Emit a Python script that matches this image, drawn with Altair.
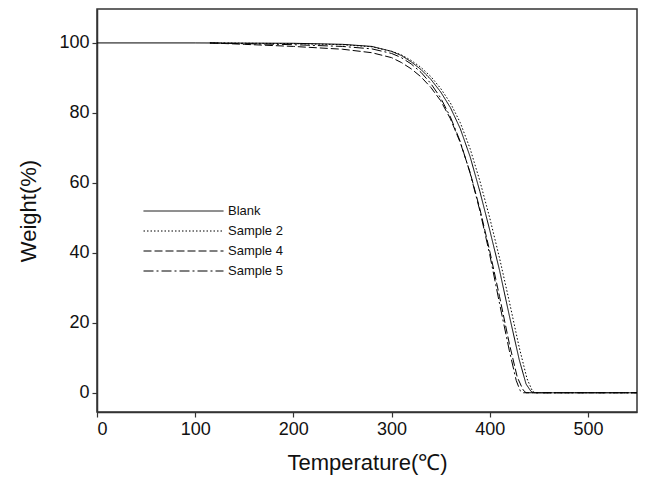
import altair as alt
import pandas as pd

series_names = ["Blank", "Sample 2", "Sample 4", "Sample 5"]

blank_t = [0, 100, 200, 250, 280, 300, 310, 320, 330, 340, 350, 360, 370, 380, 390, 400, 410, 420, 430, 437, 442, 445, 550]
blank_w = [100, 100, 99.9, 99.6, 99.0, 97.6, 96.4, 94.6, 92.4, 89.6, 86.0, 81.5, 75.5, 67.5, 57.5, 46.5, 35, 22, 9.5, 2.5, 0.4, 0, 0]

s2_t = [115, 200, 250, 280, 300, 310, 320, 330, 340, 350, 360, 370, 380, 390, 400, 410, 420, 430, 438, 443, 446, 550]
s2_w = [100, 99.8, 99.5, 98.9, 97.6, 96.6, 95.0, 93.0, 90.4, 87.0, 82.8, 77.2, 69.8, 60.5, 50, 38.5, 26, 13, 4, 0.8, 0, 0]

s4_t = [115, 150, 200, 250, 280, 300, 310, 320, 330, 340, 350, 360, 370, 380, 390, 400, 410, 420, 428, 434, 437, 550]
s4_w = [100, 99.6, 99.0, 98.2, 97.2, 95.8, 94.4, 92.6, 90.3, 87.3, 83.5, 78.3, 71.5, 63, 52.5, 40.5, 27.5, 14, 4.5, 0.8, 0, 0]

s5_t = [115, 200, 250, 280, 300, 310, 320, 330, 340, 350, 360, 370, 380, 390, 400, 410, 420, 427, 431, 434, 550]
s5_w = [100, 99.5, 99.0, 98.3, 97.0, 95.8, 94.0, 91.6, 88.4, 84.3, 78.8, 71.8, 62.8, 52, 39.5, 25.5, 12, 3.5, 0.6, 0, 0]

x_ticks = [0, 100, 200, 300, 400, 500]
y_ticks = [0, 20, 40, 60, 80, 100]

frames = []
for name, t, w in zip(series_names, [blank_t, s2_t, s4_t, s5_t], [blank_w, s2_w, s4_w, s5_w]):
    frames.append(pd.DataFrame({"T": t, "W": w, "series": name, "order": range(len(t))}))
df = pd.concat(frames, ignore_index=True)

FONT = "Liberation Sans"

chart = alt.Chart(df).mark_line(color="black", strokeWidth=1).encode(
    x=alt.X("T:Q", scale=alt.Scale(domain=[0, 550], nice=False, zero=False),
            axis=alt.Axis(title="Temperature(℃)", values=x_ticks, grid=False)),
    y=alt.Y("W:Q", scale=alt.Scale(domain=[-5.5, 109.7], nice=False, zero=False),
            axis=alt.Axis(title="Weight(%)", values=y_ticks, grid=False)),
    strokeDash=alt.StrokeDash(
        "series:N",
        scale=alt.Scale(domain=series_names, range=[[1, 0], [1.5, 2], [8, 3], [10, 3, 2, 3]]),
        legend=alt.Legend(title=None, orient="none", legendX=46, legendY=195,
                          symbolType="stroke", symbolSize=6400, symbolStrokeWidth=1,
                          symbolStrokeColor="black", symbolOpacity=1, labelFontSize=13,
                          labelFont=FONT, labelColor="#111", clipHeight=14, rowPadding=6,
                          labelOffset=4, padding=0),
    ),
    order="order:Q",
).properties(
    width=540, height=403,
    autosize=alt.AutoSizeParams(type="none"),
    padding={"left": 97, "top": 9, "right": 13, "bottom": 72},
).configure_view(
    stroke="#333", strokeWidth=1.5
).configure_axis(
    domainColor="#333", domainWidth=1.5, tickColor="#333", tickWidth=1.2, tickSize=5,
    labelFont=FONT, labelFontSize=18, labelColor="#111", labelPadding=3,
    titleFont=FONT, titleFontSize=22, titleFontWeight="normal", titleColor="#111",
).configure_axisX(titlePadding=14).configure_axisY(titlePadding=18)

chart.save("out.html", embed_options={"renderer": "svg", "actions": False})
